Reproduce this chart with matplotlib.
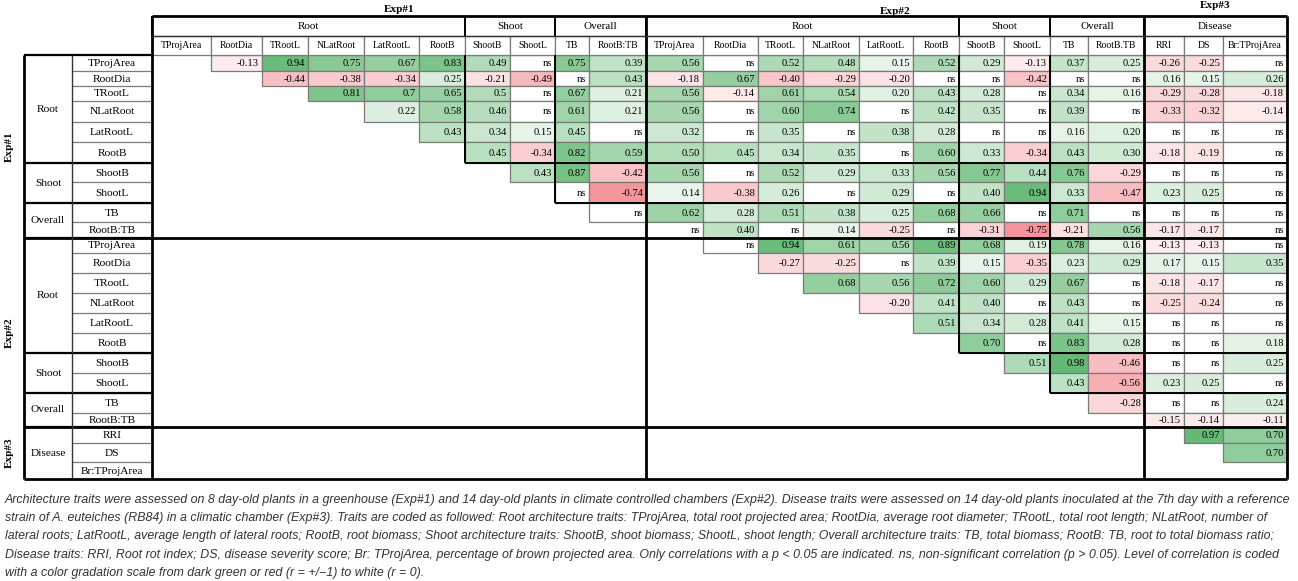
import matplotlib
matplotlib.use("Agg")
import matplotlib.pyplot as plt
from matplotlib.patches import Rectangle

# ---------------- data ----------------
experiments = ["Exp#1", "Exp#2", "Exp#3"]
col_groups = [("Root", 0, 6), ("Shoot", 6, 8), ("Overall", 8, 10),
              ("Root", 10, 16), ("Shoot", 16, 18), ("Overall", 18, 20),
              ("Disease", 20, 23)]
row_groups = [("Root", 0, 6), ("Shoot", 6, 8), ("Overall", 8, 10),
              ("Root", 10, 16), ("Shoot", 16, 18), ("Overall", 18, 20),
              ("Disease", 20, 23)]
col_labels = ["TProjArea", "RootDia", "TRootL", "NLatRoot", "LatRootL", "RootB",
              "ShootB", "ShootL", "TB", "RootB:TB",
              "TProjArea", "RootDia", "TRootL", "NLatRoot", "LatRootL", "RootB",
              "ShootB", "ShootL", "TB", "RootB.TB",
              "RRI", "DS", "Br:TProjArea"]
row_labels = ["TProjArea", "RootDia", "TRootL", "NLatRoot", "LatRootL", "RootB",
              "ShootB", "ShootL", "TB", "RootB:TB",
              "TProjArea", "RootDia", "TRootL", "NLatRoot", "LatRootL", "RootB",
              "ShootB", "ShootL", "TB", "RootB:TB",
              "RRI", "DS", "Br:TProjArea"]

# each row lists values for columns to the right of the diagonal
exp1_values = [
    ["-0.13", "0.94", "0.75", "0.67", "0.83", "0.49", "ns", "0.75", "0.39",
     "0.56", "ns", "0.52", "0.48", "0.15", "0.52", "0.29", "-0.13", "0.37", "0.25",
     "-0.26", "-0.25", "ns"],
    ["-0.44", "-0.38", "-0.34", "0.25", "-0.21", "-0.49", "ns", "0.43",
     "-0.18", "0.67", "-0.40", "-0.29", "-0.20", "ns", "ns", "-0.42", "ns", "ns",
     "0.16", "0.15", "0.26"],
    ["0.81", "0.7", "0.65", "0.5", "ns", "0.67", "0.21",
     "0.56", "-0.14", "0.61", "0.54", "0.20", "0.43", "0.28", "ns", "0.34", "0.16",
     "-0.29", "-0.28", "-0.18"],
    ["0.22", "0.58", "0.46", "ns", "0.61", "0.21",
     "0.56", "ns", "0.60", "0.74", "ns", "0.42", "0.35", "ns", "0.39", "ns",
     "-0.33", "-0.32", "-0.14"],
    ["0.43", "0.34", "0.15", "0.45", "ns",
     "0.32", "ns", "0.35", "ns", "0.38", "0.28", "ns", "ns", "0.16", "0.20",
     "ns", "ns", "ns"],
    ["0.45", "-0.34", "0.82", "0.59",
     "0.50", "0.45", "0.34", "0.35", "ns", "0.60", "0.33", "-0.34", "0.43", "0.30",
     "-0.18", "-0.19", "ns"],
    ["0.43", "0.87", "-0.42",
     "0.56", "ns", "0.52", "0.29", "0.33", "0.56", "0.77", "0.44", "0.76", "-0.29",
     "ns", "ns", "ns"],
    ["ns", "-0.74",
     "0.14", "-0.38", "0.26", "ns", "0.29", "ns", "0.40", "0.94", "0.33", "-0.47",
     "0.23", "0.25", "ns"],
    ["ns",
     "0.62", "0.28", "0.51", "0.38", "0.25", "0.68", "0.66", "ns", "0.71", "ns",
     "ns", "ns", "ns"],
    ["ns", "0.40", "ns", "0.14", "-0.25", "ns", "-0.31", "-0.75", "-0.21", "0.56",
     "-0.17", "-0.17", "ns"],
]
exp2_values = [
    ["ns", "0.94", "0.61", "0.56", "0.89", "0.68", "0.19", "0.78", "0.16",
     "-0.13", "-0.13", "ns"],
    ["-0.27", "-0.25", "ns", "0.39", "0.15", "-0.35", "0.23", "0.29",
     "0.17", "0.15", "0.35"],
    ["0.68", "0.56", "0.72", "0.60", "0.29", "0.67", "ns", "-0.18", "-0.17", "ns"],
    ["-0.20", "0.41", "0.40", "ns", "0.43", "ns", "-0.25", "-0.24", "ns"],
    ["0.51", "0.34", "0.28", "0.41", "0.15", "ns", "ns", "ns"],
    ["0.70", "ns", "0.83", "0.28", "ns", "ns", "0.18"],
    ["0.51", "0.98", "-0.46", "ns", "ns", "0.25"],
    ["0.43", "-0.56", "0.23", "0.25", "ns"],
    ["-0.28", "ns", "ns", "0.24"],
    ["-0.15", "-0.14", "-0.11"],
]
exp3_values = [
    ["0.97", "0.70"],
    ["0.70"],
    [],
]

caption_lines = [
    "Architecture traits were assessed on 8 day-old plants in a greenhouse (Exp#1) and 14 day-old plants in climate controlled chambers (Exp#2). Disease traits were assessed on 14 day-old plants inoculated at the 7th day with a reference",
    "strain of A. euteiches (RB84) in a climatic chamber (Exp#3). Traits are coded as followed: Root architecture traits: TProjArea, total root projected area; RootDia, average root diameter; TRootL, total root length; NLatRoot, number of",
    "lateral roots; LatRootL, average length of lateral roots; RootB, root biomass; Shoot architecture traits: ShootB, shoot biomass; ShootL, shoot length; Overall architecture traits: TB, total biomass; RootB: TB, root to total biomass ratio;",
    "Disease traits: RRI, Root rot index; DS, disease severity score; Br: TProjArea, percentage of brown projected area. Only correlations with a p < 0.05 are indicated. ns, non-significant correlation (p > 0.05). Level of correlation is coded",
    "with a color gradation scale from dark green or red (r = +/\u22121) to white (r = 0).",
]

# ---------------- layout ----------------
W, H = 1298, 581
col_edges = [152, 211, 262, 308, 364, 419, 465, 510, 555, 589, 646, 703, 758, 803,
             859, 913, 959, 1004, 1050, 1088, 1144, 1184, 1223, 1287]
row_edges = [55, 71, 86, 101, 122, 142, 163, 182, 203, 222, 238, 253, 273, 293,
             313, 333, 353, 373, 393, 413, 427, 443, 462, 479]
X_LEFT, X_GRP, X_LAB = 24, 72, 152
Y_TOP, Y_GRPH = 16, 36
exp_col_spans = [(0, 10), (10, 20), (20, 23)]
exp_row_spans = [(0, 10), (10, 20), (20, 23)]
major = [10, 20]

SERIF = ["Liberation Serif", "DejaVu Serif"]
GREEN = (97 / 255, 184 / 255, 113 / 255)
RED = (240 / 255, 112 / 255, 120 / 255)
THIN = "#7a7a7a"


def cell_color(txt):
    try:
        v = float(txt)
    except ValueError:
        return (1, 1, 1)
    base = GREEN if v > 0 else RED
    a = min(abs(v), 1.0)
    return tuple(1 - a * (1 - c) for c in base)


fig = plt.figure(figsize=(W / 100, H / 100), dpi=100)
ax = fig.add_axes([0, 0, 1, 1])
ax.set_xlim(0, W)
ax.set_ylim(H, 0)
ax.axis("off")


def hline(y, x0, x1, lw, color="black", z=5):
    ax.plot([x0, x1], [y, y], color=color, lw=lw, solid_capstyle="butt", zorder=z)


def vline(x, y0, y1, lw, color="black", z=5):
    ax.plot([x, x], [y0, y1], color=color, lw=lw, solid_capstyle="butt", zorder=z)


all_rows = exp1_values + exp2_values + exp3_values

# data cells
for r, vals in enumerate(all_rows):
    for k, txt in enumerate(vals):
        c = r + 1 + k
        x0, x1 = col_edges[c], col_edges[c + 1]
        y0, y1 = row_edges[r], row_edges[r + 1]
        ax.add_patch(Rectangle((x0, y0), x1 - x0, y1 - y0, facecolor=cell_color(txt),
                               edgecolor=THIN, lw=0.9, zorder=2))
        ax.text(x1 - 3, (y0 + y1) / 2 + 0.5, txt, ha="right", va="center",
                fontsize=7.6, family=SERIF, zorder=6)

# group boundaries inside the triangle
for _, s, e in col_groups[1:]:
    if s in major:
        continue
    vline(col_edges[s], row_edges[0], row_edges[s], 1.4)
for _, s, e in row_groups[1:]:
    if s in major:
        continue
    hline(row_edges[s], col_edges[s], col_edges[-1], 1.4)

# major boundaries
for m in major:
    vline(col_edges[m], Y_TOP, row_edges[-1], 2.0)
    hline(row_edges[m], X_LEFT, col_edges[-1], 2.0)

# header
for c, lab in enumerate(col_labels):
    x0, x1 = col_edges[c], col_edges[c + 1]
    ax.add_patch(Rectangle((x0, Y_GRPH), x1 - x0, row_edges[0] - Y_GRPH,
                           facecolor="white", edgecolor=THIN, lw=0.9, zorder=2))
    ax.text((x0 + x1) / 2, (Y_GRPH + row_edges[0]) / 2 + 0.5, lab, ha="center",
            va="center", fontsize=7.0, family=SERIF, zorder=6)
for lab, s, e in col_groups:
    x0, x1 = col_edges[s], col_edges[e]
    ax.text((x0 + x1) / 2, (Y_TOP + Y_GRPH) / 2 + 0.5, lab, ha="center", va="center",
            fontsize=8.0, family=SERIF, zorder=6)
    vline(x0, Y_TOP, Y_GRPH, 1.4)
hline(Y_GRPH, X_LAB, col_edges[-1], 1.0, color="#333333")
hline(Y_TOP, X_LAB, col_edges[-1], 2.0)
vline(X_LAB, Y_TOP, row_edges[-1], 2.0)
vline(col_edges[-1], Y_TOP, row_edges[-1], 2.0)

exp_y = [9, 11, 5]
for (s, e), name, yy in zip(exp_col_spans, experiments, exp_y):
    ax.text((col_edges[s] + col_edges[e]) / 2, yy, name, ha="center", va="center",
            fontsize=8.0, family=SERIF, fontweight="bold")

# row label area
for r, lab in enumerate(row_labels):
    y0, y1 = row_edges[r], row_edges[r + 1]
    ax.text((X_GRP + X_LAB) / 2, (y0 + y1) / 2 + 0.5, lab, ha="center", va="center",
            fontsize=8.2, family=SERIF, zorder=6)
    if r > 0:
        hline(y0, X_GRP, X_LAB, 0.9, color=THIN, z=3)
for lab, s, e in row_groups:
    y0, y1 = row_edges[s], row_edges[e]
    ax.text((X_LEFT + X_GRP) / 2, (y0 + y1) / 2, lab, ha="center", va="center",
            fontsize=8.2, family=SERIF, zorder=6)
    hline(y0, X_LEFT, X_LAB, 1.6)
for (s, e), name in zip(exp_row_spans, experiments):
    ax.text(9, (row_edges[s] + row_edges[e]) / 2, name, ha="center", va="center",
            rotation=90, fontsize=8.0, family=SERIF, fontweight="bold")
vline(X_LEFT, row_edges[0], row_edges[-1], 2.0)
vline(X_GRP, row_edges[0], row_edges[-1], 1.0, color="#333333")
hline(row_edges[-1], X_LEFT, col_edges[-1], 2.0)

# caption
for i, line in enumerate(caption_lines):
    ax.text(5, 500 + i * 18.2, line, ha="left", va="center", fontsize=8.95,
            family=["Liberation Sans", "DejaVu Sans"], style="italic", color="#333333")

fig.savefig("out.png", dpi=100)
